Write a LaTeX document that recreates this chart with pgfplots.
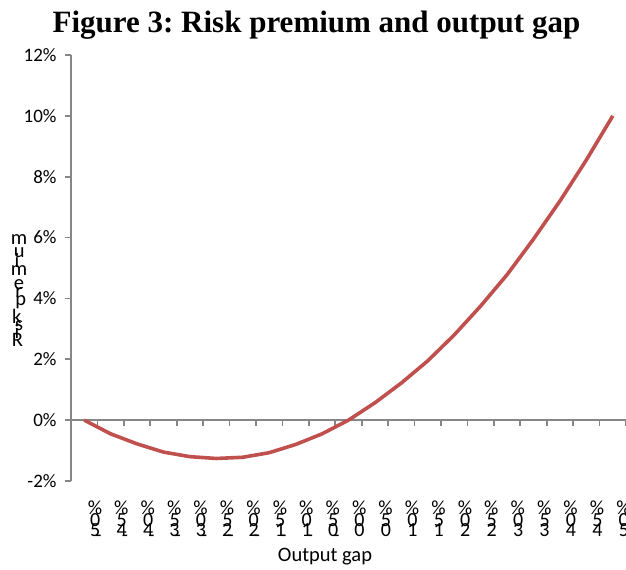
\documentclass[border=0pt]{standalone}
\usepackage{pgfplots}
\pgfplotsset{compat=1.18}
\usepackage{pgfplotstable}
\usepackage{graphicx}
\usepackage{fontspec}
\setmainfont{Carlito}
\newfontfamily\titlefont{Liberation Serif}
\definecolor{axgray}{HTML}{868686}
\definecolor{curve}{HTML}{C0504D}
\newcommand\cf{\fontsize{19bp}{22bp}\selectfont}
\newcommand\xf{\fontsize{20bp}{22bp}\selectfont}
\newcommand\lf{\fontsize{20.5bp}{23bp}\selectfont}
\newsavebox\vcbox
\newcommand\vc[1]{\sbox\vcbox{#1}\hbox to\wd\vcbox{\hss\rotatebox[origin=c]{-90}{#1}\hss}}
\makeatletter
\newcommand\vstr[1]{\rotatebox{90}{\@tfor\@ch:=#1\do{\vc{\@ch}}}}
\makeatother
\pgfplotstableread{
k v
0 0.00
1 -0.45
2 -0.78
3 -1.05
4 -1.20
5 -1.26
6 -1.22
7 -1.07
8 -0.80
9 -0.45
10 0.00
11 0.57
12 1.22
13 1.95
14 2.80
15 3.75
16 4.78
17 5.95
18 7.20
19 8.55
20 10.00
}\riskdata
\begin{document}
\frenchspacing
\begin{tikzpicture}
\begin{axis}[
  at={(71bp,89bp)}, anchor=south west,
  scale only axis, width=555bp, height=426bp,
  xmin=-0.5, xmax=20.5, ymin=-2, ymax=12,
  axis lines*=left,
  x axis line style={draw=none},
  y axis line style={-, draw=axgray, line width=1.8bp},
  tick align=outside,
  major tick length=6bp,
  xtick={0,...,20},
  x tick style={draw=none},
  xticklabels={\vstr{-50\%},\vstr{-45\%},\vstr{-40\%},\vstr{-35\%},\vstr{-30\%},\vstr{-25\%},\vstr{-20\%},\vstr{-15\%},\vstr{-10\%},\vstr{-05\%},\vstr{00\%},\vstr{05\%},\vstr{10\%},\vstr{15\%},\vstr{20\%},\vstr{25\%},\vstr{30\%},\vstr{35\%},\vstr{40\%},\vstr{45\%},\vstr{50\%}},
  xticklabel style={font=\xf, anchor=north, xshift=10.7bp, yshift=-10bp},
  ytick={-2,0,2,4,6,8,10,12},
  yticklabels={-2\%,0\%,2\%,4\%,6\%,8\%,10\%,12\%},
  y tick style={draw=axgray, line width=1.8bp},
  yticklabel style={font=\cf, anchor=east, xshift=-5bp},
  clip=false,
]
\draw[axgray, line width=1.8bp] (axis cs:-0.5,0) -- (axis cs:20.5,0);
\pgfplotsinvokeforeach{-0.5,0.5,...,20.5}{\draw[axgray, line width=1.8bp] (axis cs:#1,0) -- ++(0pt,-6bp);}
\addplot[curve, line width=3.6bp, no marks, sharp plot] table[x=k,y=v] {\riskdata};
\end{axis}
\node[anchor=base, font=\titlefont\bfseries\fontsize{31bp}{34bp}\selectfont] at (316.5bp,537bp) {Figure 3: Risk premium and output gap};
\node[font=\lf] at (325bp,13bp) {Output gap};
\node[font=\lf] at (19bp,282bp) {\rotatebox{90}{\vc{R}\vc{i}\vc{s}\vc{k}\vc{\ }\vc{p}\vc{r}\vc{e}\vc{m}\vc{i}\vc{u}\vc{m}}};
\pgfresetboundingbox
\path[use as bounding box] (0bp,0bp) rectangle (626bp,570bp);
\end{tikzpicture}
\end{document}
